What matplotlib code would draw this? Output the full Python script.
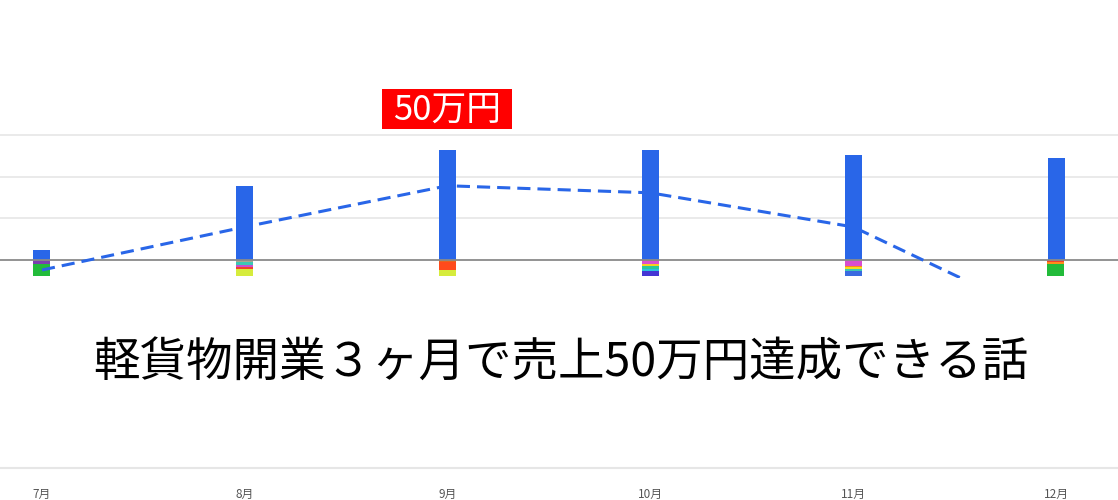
import matplotlib
matplotlib.use("Agg")
import matplotlib.pyplot as plt
from matplotlib.patches import Rectangle
import numpy as np

plt.rcParams['font.family'] = ['Noto Sans CJK JP', 'DejaVu Sans']

# ---- data ----
months = ["7月", "8月", "9月", "10月", "11月", "12月"]
revenue = [4.8, 35.7, 53.0, 53.0, 50.6, 49.2]          # blue bars (above zero)
trend = [-4.8, 15.9, 35.7, 32.3, 15.9, -30.4]           # dashed line

# cost segments below zero, per month (from zero downward)
jul_neg = [1.9, 5.8]
aug_neg = [0.9, 1.4, 1.0, 1.0, 3.4]
sep_neg = [1.0, 3.9, 2.8]
oct_neg = [0.7, 1.0, 1.0, 1.4, 1.0, 2.6]
nov_neg = [2.9, 0.7, 0.7, 1.0, 2.4]
dec_neg = [1.0, 1.0, 5.7]

jul_col = ['#7b3fb0', '#22bb3a']
aug_col = ['#a8a890', '#3cc8b4', '#c84fd0', '#f0412b', '#d6ec3c']
sep_col = ['#e8651f', '#ff4a1c', '#d6ec3c']
oct_col = ['#f0412b', '#d94fd0', '#f5d020', '#2cc89a', '#29c5e0', '#4535d4']
nov_col = ['#d94fd0', '#ff8c1a', '#f5e020', '#3cc8b4', '#3a6ae0']
dec_col = ['#f0412b', '#ff8c1a', '#22bb3a']

neg_all = [jul_neg, aug_neg, sep_neg, oct_neg, nov_neg, dec_neg]
col_all = [jul_col, aug_col, sep_col, oct_col, nov_col, dec_col]

title = "軽貨物開業３ヶ月で売上50万円達成できる話"
badge = "50万円"

W, H = 1118, 500
fig = plt.figure(figsize=(W / 100, H / 100), dpi=100)
# axes: bottom line at y=468px, top at 0px
ax = fig.add_axes([0, (H - 468) / H, 1, 468 / H])

x = np.arange(len(months))
px_per_unit = 41.6 / 20.0
ax.set_xlim(-42 / 202.8, (W - 42) / 202.8)
ax.set_ylim(-100, -100 + 468 / px_per_unit)

blue = '#2966e8'
bw = 17 / 202.8

for yv in [20, 40, 60]:
    ax.axhline(yv, color='#e6e6e6', lw=1.2, zorder=0)
ax.axhline(0, color='#8a8a8a', lw=1.3, zorder=3)

ax.bar(x, revenue, width=bw, color=blue, zorder=2)
for i, (vals, cols) in enumerate(zip(neg_all, col_all)):
    bottom = 0.0
    for v, c in zip(vals, cols):
        ax.bar(x[i], -v, width=bw, bottom=bottom, color=c, zorder=2)
        bottom -= v

ax.plot(x, trend, color=blue, lw=2.2, ls=(0, (4.3, 2.3)), zorder=4,
        solid_capstyle='butt', dash_capstyle='butt')

for s in ['top', 'left', 'right']:
    ax.spines[s].set_visible(False)
ax.spines['bottom'].set_color('#e6e6e6')
ax.spines['bottom'].set_linewidth(1.5)
ax.set_yticks([])
ax.set_xticks(x)
ax.set_xticklabels(months, fontsize=8.5, color='#555555')
ax.tick_params(axis='x', length=0, pad=14)

# white panel covering the lower chart area
fig.patches.append(Rectangle((0, (H - 456) / H), 1, (456 - 278) / H,
                             transform=fig.transFigure, facecolor='white',
                             edgecolor='none', zorder=10))
fig.text(561 / W, 1 - 363 / H, title, fontsize=33.5, color='black',
         ha='center', va='center', zorder=11)

# red badge
fig.patches.append(Rectangle((382 / W, 1 - 129 / H), 130 / W, 40 / H,
                             transform=fig.transFigure, facecolor='#ff0000',
                             edgecolor='none', zorder=10))
fig.text(447 / W, 1 - 110 / H, badge, fontsize=25, color='white',
         ha='center', va='center', zorder=11)

fig.savefig("out.png", dpi=100)
